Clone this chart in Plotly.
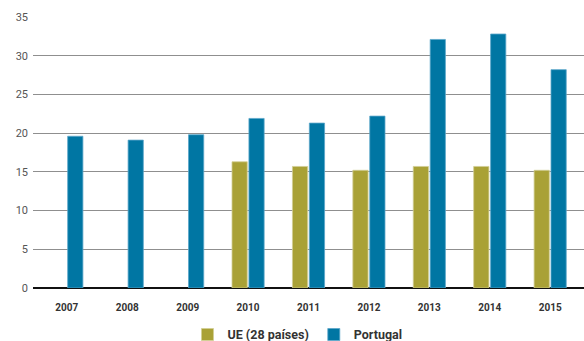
import plotly.graph_objects as go

years = ["2007", "2008", "2009", "2010", "2011", "2012", "2013", "2014", "2015"]
ue28 = [None, None, None, 16.3, 15.7, 15.2, 15.7, 15.7, 15.2]
portugal = [19.6, 19.1, 19.8, 21.9, 21.3, 22.2, 32.1, 32.8, 28.2]

fig = go.Figure()
fig.add_trace(go.Bar(
    x=years, y=ue28, name="UE (28 países)",
    marker=dict(color="#a9a136", line=dict(color="#d2ce94", width=0.8)),
))
fig.add_trace(go.Bar(
    x=years, y=portugal, name="Portugal",
    marker=dict(color="#0076a3", line=dict(color="#5ba6c9", width=0.8)),
))

fig.update_layout(
    width=584, height=341,
    margin=dict(l=33, r=0, t=17, b=53, autoexpand=False),
    paper_bgcolor="white", plot_bgcolor="white",
    barmode="group", bargap=0.44, bargroupgap=0.1,
    font=dict(family="Roboto, sans-serif", color="#333"),
    showlegend=True,
    legend=dict(
        orientation="h", x=0.48, xanchor="center", y=-0.173, yanchor="middle",
        font=dict(size=12.5, color="#333", family="Roboto, sans-serif", weight="bold"),
        itemwidth=30, tracegroupgap=0,
    ),
    xaxis=dict(
        type="category", range=[-0.56, 8.56],
        showgrid=False, showline=False, zeroline=False,
        ticks="", ticklabelstandoff=12,
        tickfont=dict(size=10, color="#333", weight="bold"),
    ),
    yaxis=dict(
        range=[0, 35], dtick=5, tick0=0,
        showgrid=True, gridcolor="#8f8f8f", gridwidth=1,
        zeroline=True, zerolinecolor="#111", zerolinewidth=1.6,
        showline=False, ticks="", ticklabelstandoff=4,
        tickfont=dict(size=11, color="#555"),
    ),
)

fig.write_html("out.html")
